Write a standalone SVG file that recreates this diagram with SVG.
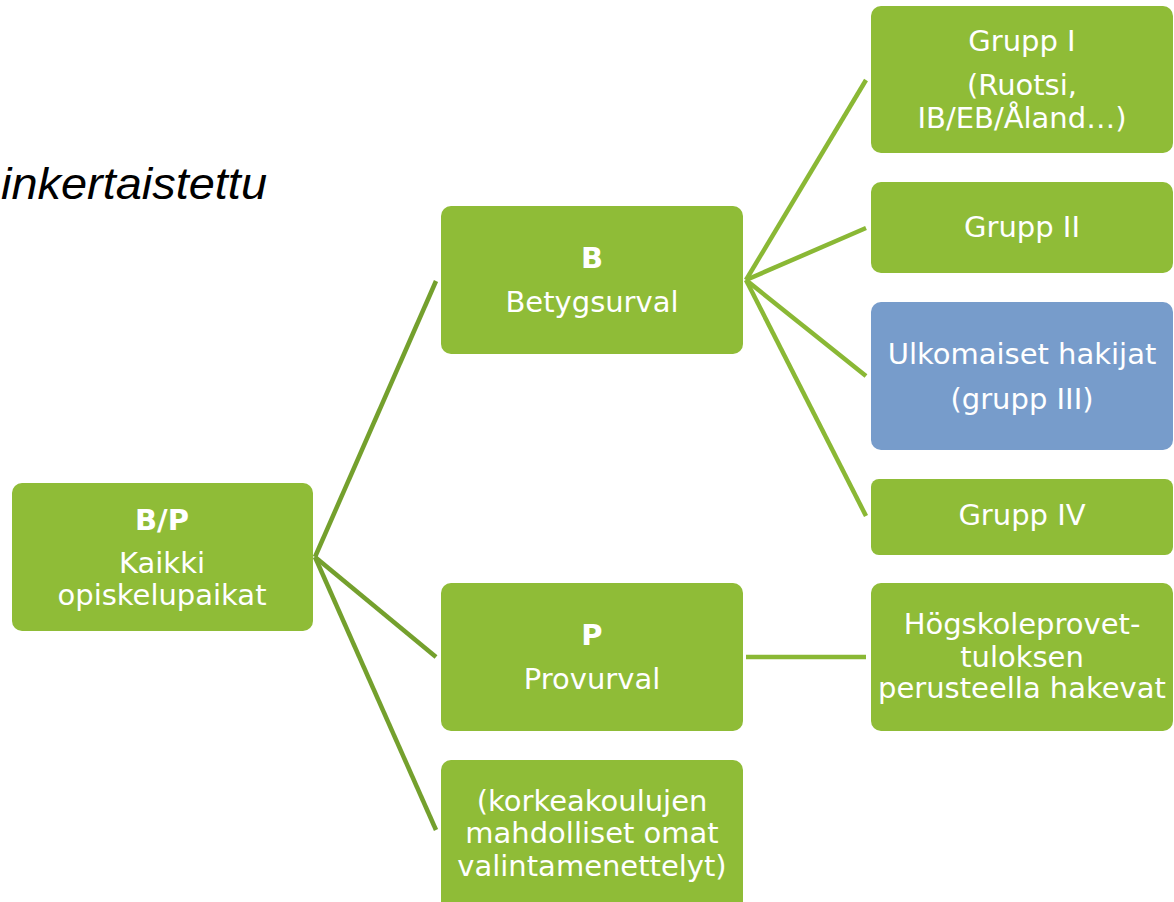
<svg xmlns="http://www.w3.org/2000/svg" width="1174" height="902" viewBox="0 0 1174 902">
<style>
.g{fill:#8FBC37}
.b{fill:#779CCB}
text{font-family:"DejaVu Sans",Verdana,sans-serif;font-size:29px;fill:#fff;text-anchor:middle}
.bold{font-weight:bold}
.t{font-family:"Liberation Sans",Arial,sans-serif;font-style:italic;font-size:44px;fill:#000;text-anchor:start}
.c1{stroke:#74A02D;stroke-width:4.5;fill:none}
.c2{stroke:#8AB835;stroke-width:4.5;fill:none}
</style>
<rect width="1174" height="902" fill="#fff"/>
<text class="t" x="1" y="199" textLength="266" lengthAdjust="spacingAndGlyphs">inkertaistettu</text>
<g id="connectors">
<line class="c1" x1="315" y1="557" x2="436" y2="281"/>
<line class="c1" x1="315" y1="557" x2="436" y2="657"/>
<line class="c1" x1="315" y1="557" x2="436" y2="830"/>
<line class="c2" x1="746" y1="280" x2="866" y2="80"/>
<line class="c2" x1="746" y1="280" x2="866" y2="228"/>
<line class="c2" x1="746" y1="280" x2="866" y2="376"/>
<line class="c2" x1="746" y1="280" x2="866" y2="516"/>
<line class="c2" x1="746" y1="657" x2="866" y2="657"/>
</g>
<g id="n-bp">
<rect class="g" x="12" y="483" width="301" height="148" rx="10"/>
<text class="bold" x="162" y="530">B/P</text>
<text x="162" y="573">Kaikki</text>
<text x="162" y="605">opiskelupaikat</text>
</g>
<g id="n-b">
<rect class="g" x="441" y="206" width="302" height="148" rx="10"/>
<text class="bold" x="592" y="268">B</text>
<text x="592" y="312">Betygsurval</text>
</g>
<g id="n-p">
<rect class="g" x="441" y="583" width="302" height="148" rx="10"/>
<text class="bold" x="592" y="645">P</text>
<text x="592" y="689">Provurval</text>
</g>
<g id="n-k">
<rect class="g" x="441" y="760" width="302" height="160" rx="10"/>
<text x="592" y="811">(korkeakoulujen</text>
<text x="592" y="843">mahdolliset omat</text>
<text x="592" y="876">valintamenettelyt)</text>
</g>
<g id="n-g1">
<rect class="g" x="871" y="6" width="302" height="147" rx="10"/>
<text x="1022" y="51">Grupp I</text>
<text x="1022" y="95">(Ruotsi,</text>
<text x="1022" y="128">IB/EB/Åland…)</text>
</g>
<g id="n-g2">
<rect class="g" x="871" y="182" width="302" height="91" rx="10"/>
<text x="1022" y="237">Grupp II</text>
</g>
<g id="n-g3">
<rect class="b" x="871" y="302" width="302" height="148" rx="10"/>
<text x="1022" y="364">Ulkomaiset hakijat</text>
<text x="1022" y="409">(grupp III)</text>
</g>
<g id="n-g4">
<rect class="g" x="871" y="479" width="302" height="76" rx="8"/>
<text x="1022" y="525">Grupp IV</text>
</g>
<g id="n-h">
<rect class="g" x="871" y="583" width="302" height="148" rx="10"/>
<text x="1022" y="634">Högskoleprovet-</text>
<text x="1022" y="667">tuloksen</text>
<text x="1022" y="698">perusteella hakevat</text>
</g>
</svg>
